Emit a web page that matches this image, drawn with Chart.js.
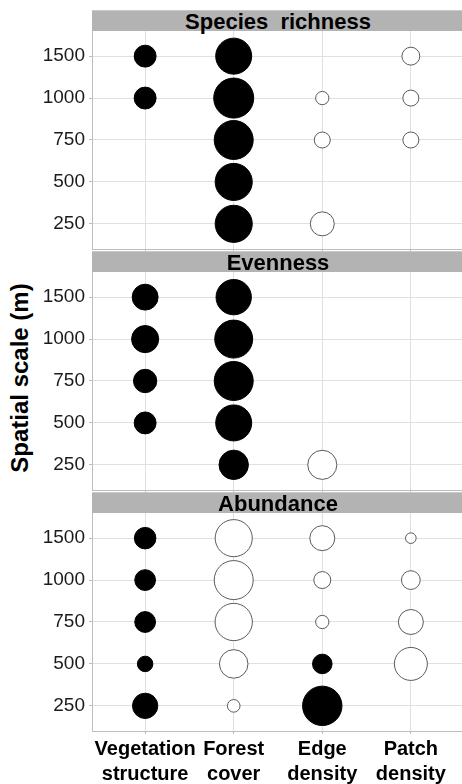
<!DOCTYPE html>
<html>
<head>
<meta charset="utf-8">
<script src="https://cdn.jsdelivr.net/npm/chart.js@4/dist/chart.umd.min.js"></script>
<style>
  html, body { margin: 0; padding: 0; background: #fff; }
  body {
    width: 462px; height: 784px; overflow: hidden; position: relative;
    font-family: 'Liberation Sans', Arial, sans-serif;
  }
  canvas { position: absolute; left: 0; }
  .strip {
    position: absolute; left: 92px; width: 372px; height: 21px;
    background: #b3b3b3; border-top: 1px solid #c9c9c9; box-sizing: border-box;
    color: #000; font-weight: bold; font-size: 22px; line-height: 21px;
    text-align: center; white-space: pre;
  }
  #ytitle {
    position: absolute; left: -130px; top: 363px; width: 300px; height: 30px;
    line-height: 30px; text-align: center; font-weight: bold; font-size: 24px;
    color: #000; transform: rotate(-90deg); white-space: nowrap;
  }
</style>
</head>
<body>
<div id="ytitle">Spatial scale (m)</div>

<script>
// Spatial scales (bottom to top) and landscape predictors
const scaleLabels = ['250', '500', '750', '1000', '1500'];
const predictors = [['Vegetation', 'structure'], ['Forest', 'cover'], ['Edge', 'density'], ['Patch', 'density']];

// Effect values per scale (250 -> 1500); positive = filled, negative = open, null = not selected
const richnessVeg    = [null, null, null, 0.30, 0.30];
const richnessForest = [0.86, 0.86, 0.95, 1.00, 0.81];
const richnessEdge   = [-0.36, null, -0.16, -0.11, null];
const richnessPatch  = [null, null, -0.16, -0.16, -0.20];

const evennessVeg    = [null, 0.30, 0.34, 0.46, 0.42];
const evennessForest = [0.54, 0.81, 0.95, 0.90, 0.78];
const evennessEdge   = [-0.53, null, null, null, null];
const evennessPatch  = [null, null, null, null, null];

const abundanceVeg    = [0.40, 0.15, 0.27, 0.27, 0.29];
const abundanceForest = [-0.10, -0.51, -0.87, -0.95, -0.86];
const abundanceEdge   = [0.97, 0.24, -0.11, -0.18, -0.39];
const abundancePatch  = [null, -0.68, -0.39, -0.22, -0.07];

const panels = [
  { title: 'Species  richness', top: 31, series: [richnessVeg, richnessForest, richnessEdge, richnessPatch] },
  { title: 'Evenness', top: 272, series: [evennessVeg, evennessForest, evennessEdge, evennessPatch] },
  { title: 'Abundance', top: 513, series: [abundanceVeg, abundanceForest, abundanceEdge, abundancePatch], showX: true }
];

const PLOT_H = 218;
const MAX_R = 20;
const fontFamily = "'Liberation Sans', Arial, sans-serif";

// Turn the value grid into bubble points, area proportional to |value|
const toPoints = (series) => {
  const points = [];
  series.forEach((values, col) => {
    values.forEach((v, row) => {
      if (v !== null) {
        points.push({ x: col, y: row, r: MAX_R * Math.sqrt(Math.abs(v)), v });
      }
    });
  });
  return points;
};

// Labels sit well inside the expanded range, so drop the edge padding Chart.js reserves for them
const noEdgePadding = s => {
  s.paddingTop = 0;
  s.paddingBottom = 0;
  s.paddingLeft = 0;
  s.paddingRight = 0;
};

panels.forEach(panel => {
  const strip = document.createElement('div');
  strip.className = 'strip';
  strip.style.top = (panel.top - 21) + 'px';
  strip.textContent = panel.title;
  document.body.appendChild(strip);

  const canvas = document.createElement('canvas');
  const height = panel.showX ? 784 - panel.top : PLOT_H + 2;
  canvas.width = 464;
  canvas.height = height;
  canvas.style.top = panel.top + 'px';
  document.body.appendChild(canvas);

  new Chart(canvas, {
    type: 'bubble',
    data: {
      datasets: [{
        data: toPoints(panel.series),
        backgroundColor: ctx => (ctx.raw && ctx.raw.v > 0 ? '#000' : '#fff'),
        borderColor: ctx => (ctx.raw && ctx.raw.v > 0 ? '#000' : '#5a5a5a'),
        borderWidth: 1
      }]
    },
    options: {
      responsive: false,
      animation: false,
      events: [],
      layout: { padding: 0, autoPadding: false },
      plugins: { legend: { display: false }, tooltip: { enabled: false } },
      scales: {
        x: {
          type: 'linear',
          min: -0.6,
          max: 3.6,
          afterBuildTicks: s => { s.ticks = predictors.map((_, i) => ({ value: i })); },
          afterFit: s => {
            s.height = panel.showX ? height - PLOT_H : 2;
            noEdgePadding(s);
          },
          grid: { color: '#e0e0e0', tickColor: '#bdbdbd', tickLength: 3 },
          border: { color: '#bdbdbd' },
          ticks: {
            display: !!panel.showX,
            autoSkip: false,
            maxRotation: 0,
            minRotation: 0,
            padding: 3,
            color: '#000',
            font: { family: fontFamily, size: 20, weight: 'bold', lineHeight: 1.25 },
            callback: v => predictors[v]
          }
        },
        y: {
          type: 'linear',
          min: -0.6,
          max: 4.6,
          afterBuildTicks: s => { s.ticks = scaleLabels.map((_, i) => ({ value: i })); },
          afterFit: s => {
            s.width = 92;
            noEdgePadding(s);
          },
          grid: { color: '#e0e0e0', tickColor: '#bdbdbd', tickLength: 3 },
          border: { color: '#bdbdbd' },
          ticks: {
            padding: 4,
            color: '#1a1a1a',
            font: { family: fontFamily, size: 19 },
            callback: v => scaleLabels[v]
          }
        }
      }
    }
  });
});
</script>
</body>
</html>
